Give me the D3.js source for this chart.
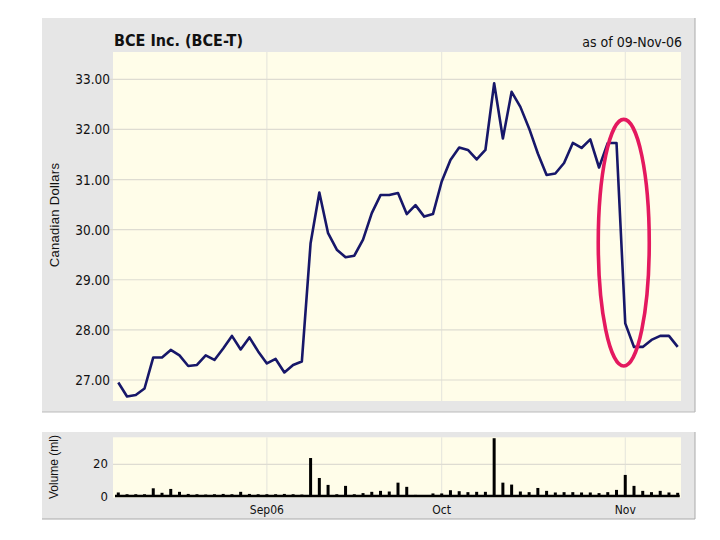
<!DOCTYPE html>
<html>
<head>
<meta charset="utf-8">
<script src="https://cdn.jsdelivr.net/npm/d3@7"></script>
<style>
  body { margin: 0; background: #fff; }
  svg text { font-family: "Liberation Sans Narrow", "DejaVu Sans Condensed", "Liberation Sans", sans-serif; fill: #111; }
</style>
</head>
<body>
<div id="chart"></div>
<script>
// trading days, 09-Aug-06 to 09-Nov-06
const dates = [
  '2006-08-09','2006-08-10','2006-08-11','2006-08-14','2006-08-15','2006-08-16','2006-08-17','2006-08-18',
  '2006-08-21','2006-08-22','2006-08-23','2006-08-24','2006-08-25','2006-08-28','2006-08-29','2006-08-30','2006-08-31',
  '2006-09-01','2006-09-05','2006-09-06','2006-09-07','2006-09-08','2006-09-11','2006-09-12','2006-09-13','2006-09-14',
  '2006-09-15','2006-09-18','2006-09-19','2006-09-20','2006-09-21','2006-09-22','2006-09-25','2006-09-26','2006-09-27',
  '2006-09-28','2006-09-29',
  '2006-10-02','2006-10-03','2006-10-04','2006-10-05','2006-10-06','2006-10-10','2006-10-11','2006-10-12','2006-10-13',
  '2006-10-16','2006-10-17','2006-10-18','2006-10-19','2006-10-20','2006-10-23','2006-10-24','2006-10-25','2006-10-26',
  '2006-10-27','2006-10-30','2006-10-31',
  '2006-11-01','2006-11-02','2006-11-03','2006-11-06','2006-11-07','2006-11-08','2006-11-09'
];

const closes = [
  26.95, 26.67, 26.70, 26.83, 27.45, 27.45, 27.60, 27.49, 27.28, 27.30,
  27.49, 27.40, 27.63, 27.88, 27.61, 27.85, 27.57, 27.33, 27.42, 27.15,
  27.30, 27.37, 29.73, 30.74, 29.93, 29.60, 29.45, 29.48, 29.80, 30.33,
  30.69, 30.69, 30.73, 30.31, 30.49, 30.26, 30.31, 30.96, 31.39, 31.64,
  31.59, 31.40, 31.59, 32.92, 31.82, 32.75, 32.45, 32.02, 31.52, 31.09,
  31.12, 31.33, 31.73, 31.63, 31.80, 31.24, 31.73, 31.73, 28.13, 27.66,
  27.66, 27.80, 27.88, 27.88, 27.66
];

// volume, millions
const volumes = [
  2.5, 1.4, 1.4, 1.4, 5.1, 2.3, 4.7, 2.9, 1.6, 1.4,
  1.2, 1.4, 1.6, 1.4, 2.9, 1.6, 1.4, 1.4, 1.4, 1.6,
  1.4, 1.2, 23.9, 11.5, 7.2, 1.4, 6.6, 1.4, 2.1, 2.9,
  3.5, 3.1, 8.6, 6.0, 1.0, 0.8, 1.9, 1.9, 3.9, 3.3,
  2.7, 2.9, 2.9, 36.2, 8.6, 7.4, 3.1, 2.7, 5.3, 3.5,
  2.5, 2.7, 2.7, 2.5, 2.5, 2.1, 2.7, 4.1, 13.4, 6.6,
  3.5, 2.7, 3.5, 2.5, 2.3
];

const priceTicks = [27, 28, 29, 30, 31, 32, 33];
const volumeTicks = [0, 20];
const monthDates = ['2006-09-01', '2006-10-02', '2006-11-01'];
const monthLabels = ['Sep06', 'Oct', 'Nov'];

// the circled drop
const highlight = { date: '2006-11-01', low: 27.28, high: 32.2 };

const width = 720, height = 540;

const svg = d3.select('#chart')
  .append('svg')
  .attr('width', width)
  .attr('height', height);

const plotLeft = 113, plotRight = 681;

const x = d3.scalePoint()
  .domain(dates)
  .range([118.3, 677.7]);

const y = d3.scaleLinear()
  .domain([27, 33])
  .range([380, 79.3]);

const yVol = d3.scaleLinear()
  .domain([0, 20])
  .range([496.5, 464.3]);

// ---- price panel ----
svg.append('rect')
  .attr('x', 42).attr('y', 18)
  .attr('width', 653).attr('height', 394)
  .attr('fill', '#e6e6e6');
svg.append('line')
  .attr('x1', 695).attr('x2', 695).attr('y1', 18).attr('y2', 412)
  .attr('stroke', '#aaa');
svg.append('line')
  .attr('x1', 42).attr('x2', 695).attr('y1', 412).attr('y2', 412)
  .attr('stroke', '#bbb');

svg.append('rect')
  .attr('x', plotLeft).attr('y', 52)
  .attr('width', plotRight - plotLeft).attr('height', 349)
  .attr('fill', '#fffde9');

svg.append('g')
  .selectAll('line')
  .data(monthDates)
  .join('line')
  .attr('x1', (d) => x(d)).attr('x2', (d) => x(d))
  .attr('y1', 52).attr('y2', 401)
  .attr('stroke', '#e4e4dc');

svg.append('g')
  .selectAll('line')
  .data(priceTicks)
  .join('line')
  .attr('x1', plotLeft - 4).attr('x2', plotRight)
  .attr('y1', (d) => y(d)).attr('y2', (d) => y(d))
  .attr('stroke', '#dedcd2')
  .attr('stroke-width', 1.2);

svg.append('g')
  .selectAll('text')
  .data(priceTicks)
  .join('text')
  .attr('x', 110)
  .attr('y', (d) => y(d) + 5)
  .attr('text-anchor', 'end')
  .attr('font-size', 13.5)
  .text((d) => d.toFixed(2));

svg.append('text')
  .attr('transform', 'translate(59,215) rotate(-90)')
  .attr('text-anchor', 'middle')
  .attr('font-size', 13)
  .style('font-family', '"Liberation Sans", sans-serif')
  .style('letter-spacing', '0.3px')
  .text('Canadian Dollars');

svg.append('text')
  .attr('x', 114).attr('y', 46)
  .attr('font-size', 16)
  .attr('font-weight', 'bold')
  .text('BCE Inc. (BCE-T)');

svg.append('text')
  .attr('x', 682).attr('y', 47)
  .attr('text-anchor', 'end')
  .attr('font-size', 14)
  .text('as of 09-Nov-06');

const line = d3.line()
  .x((d, i) => x(dates[i]))
  .y((d) => y(d));

svg.append('path')
  .datum(closes)
  .attr('d', line)
  .attr('fill', 'none')
  .attr('stroke', '#171769')
  .attr('stroke-width', 2.6)
  .attr('stroke-linejoin', 'round');

// ---- volume panel ----
svg.append('rect')
  .attr('x', 42).attr('y', 432)
  .attr('width', 653).attr('height', 87)
  .attr('fill', '#e6e6e6');
svg.append('line')
  .attr('x1', 695).attr('x2', 695).attr('y1', 432).attr('y2', 519)
  .attr('stroke', '#aaa');
svg.append('line')
  .attr('x1', 42).attr('x2', 695).attr('y1', 519).attr('y2', 519)
  .attr('stroke', '#aaa');

svg.append('rect')
  .attr('x', plotLeft).attr('y', 437.3)
  .attr('width', plotRight - plotLeft).attr('height', 60.5)
  .attr('fill', '#fffde9');

svg.append('g')
  .selectAll('line')
  .data(monthDates)
  .join('line')
  .attr('x1', (d) => x(d)).attr('x2', (d) => x(d))
  .attr('y1', 437.3).attr('y2', 497.8)
  .attr('stroke', '#e4e4dc');

svg.append('line')
  .attr('x1', plotLeft).attr('x2', plotRight)
  .attr('y1', yVol(20)).attr('y2', yVol(20))
  .attr('stroke', '#dedcd2')
  .attr('stroke-width', 1.2);

svg.append('g')
  .selectAll('text')
  .data(volumeTicks)
  .join('text')
  .attr('x', 108)
  .attr('y', (d) => yVol(d) + 4)
  .attr('text-anchor', 'end')
  .attr('font-size', 13)
  .text((d) => d);

svg.append('text')
  .attr('transform', 'translate(58,467) rotate(-90)')
  .attr('text-anchor', 'middle')
  .attr('font-size', 12)
  .style('font-family', '"Liberation Sans", sans-serif')
  .text('Volume (ml)');

svg.append('g')
  .selectAll('rect')
  .data(volumes)
  .join('rect')
  .attr('x', (d, i) => x(dates[i]) - 1.5)
  .attr('y', (d) => yVol(d))
  .attr('width', 3)
  .attr('height', (d) => yVol(0) - yVol(d))
  .attr('fill', '#000');

svg.append('line')
  .attr('x1', plotLeft + 2).attr('x2', x(dates[dates.length - 1]) + 2)
  .attr('y1', yVol(0) - 0.5).attr('y2', yVol(0) - 0.5)
  .attr('stroke', '#000')
  .attr('stroke-width', 2.5);

svg.append('g')
  .selectAll('text')
  .data(monthDates)
  .join('text')
  .attr('x', (d) => x(d))
  .attr('y', 514)
  .attr('text-anchor', 'middle')
  .attr('font-size', 12)
  .text((d, i) => monthLabels[i]);

// ---- annotation ellipse ----
svg.append('ellipse')
  .attr('cx', x(highlight.date) - 1.5)
  .attr('cy', (y(highlight.low) + y(highlight.high)) / 2)
  .attr('rx', 25.5)
  .attr('ry', (y(highlight.low) - y(highlight.high)) / 2)
  .attr('fill', 'none')
  .attr('stroke', '#e4195f')
  .attr('stroke-width', 3.6);
</script>
</body>
</html>
